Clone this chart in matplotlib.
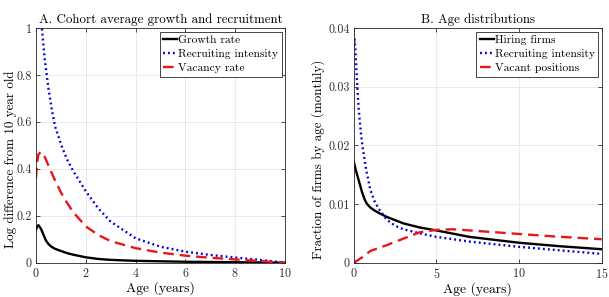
import numpy as np
import matplotlib
matplotlib.use("Agg")
import matplotlib.pyplot as plt

plt.rcParams['font.family'] = ['cmr10', 'DejaVu Serif']
plt.rcParams['mathtext.fontset'] = 'cm'
plt.rcParams['axes.unicode_minus'] = False
plt.rcParams['axes.formatter.use_mathtext'] = True

# Panel A: log difference from 10 year old, by age (years)
age_a = [0, 0.05, 0.1, 0.2, 0.3, 0.4, 0.5, 0.6, 0.75, 1, 1.25, 1.5, 2, 2.5, 3, 4, 5,
         6, 7, 8, 9, 10]
growth = [0.139, 0.155, 0.16, 0.145, 0.12, 0.095, 0.08, 0.07, 0.06, 0.05, 0.041,
          0.034, 0.023, 0.016, 0.012, 0.008, 0.006, 0.004, 0.003, 0.002, 0.001, 0.0]
vacancy = [0.359, 0.43, 0.462, 0.472, 0.462, 0.44, 0.415, 0.39, 0.355, 0.3, 0.255,
           0.215, 0.155, 0.118, 0.092, 0.062, 0.043, 0.03, 0.021, 0.014, 0.007, 0.0]
age_ri = [0.1, 0.24, 0.35, 0.51, 0.65, 0.77, 1.04, 1.25, 1.5, 2, 2.5, 3, 4, 5, 6, 7,
          8, 9, 10]
recruit = [1.25, 1.0, 0.87, 0.737, 0.645, 0.58, 0.495, 0.44, 0.39, 0.305, 0.232,
           0.175, 0.104, 0.068, 0.047, 0.033, 0.022, 0.012, 0.0]

# Panel B: fraction of firms by age (monthly)
age_b = [0, 0.1, 0.25, 0.35, 0.5, 0.65, 0.8, 1, 1.25, 1.5, 2, 3, 4, 5, 7, 10, 12.5, 15]
hiring = [0.0172, 0.0160, 0.0145, 0.0135, 0.0120, 0.0108, 0.0100, 0.0094, 0.0089,
          0.0085, 0.0078, 0.0067, 0.006, 0.0055, 0.0044, 0.0034, 0.0028, 0.0023]
age_rb = [0, 0.04, 0.1, 0.2, 0.3, 0.45, 0.55, 0.75, 1, 1.25, 1.5, 2, 2.5, 3, 4, 5, 7,
          10, 15]
recruit_b = [0.0367, 0.0383, 0.036, 0.0305, 0.0259, 0.0215, 0.0193, 0.0158, 0.0124,
             0.0105, 0.0092, 0.0073, 0.0063, 0.0057, 0.005, 0.0044, 0.0036, 0.0027,
             0.0015]
age_vb = [0, 0.5, 1, 2, 3, 4, 5, 6, 8, 10, 12, 15]
vacant = [0.0, 0.0009, 0.002, 0.003, 0.0041, 0.0052, 0.0056, 0.0057, 0.0053,
          0.0049, 0.0045, 0.004]

fig = plt.figure(figsize=(6.09, 2.97), dpi=100)
ax1 = fig.add_axes([0.059, 0.1155, 0.409, 0.79])
ax2 = fig.add_axes([0.581, 0.1155, 0.407, 0.79])

dots = (0, (0.8, 1.3))
dashes = (0, (4.5, 2.5))
lw = 1.7

ax1.plot(age_a, growth, color='black', lw=lw, label='Growth rate')
ax1.plot(age_ri, recruit, color='#0000e0', lw=lw, ls=dots, label='Recruiting intensity')
ax1.plot(age_a, vacancy, color='#e8161b', lw=lw, ls=dashes, label='Vacancy rate')
ax1.set_xlim(0, 10)
ax1.set_ylim(0, 1)
ax1.set_xticks([0, 2, 4, 6, 8, 10])
ax1.set_yticks([0, 0.2, 0.4, 0.6, 0.8, 1])
ax1.set_yticklabels(['0', '0.2', '0.4', '0.6', '0.8', '1'])
ax1.set_title('A. Cohort average growth and recruitment', fontsize=9.3, pad=4)
ax1.set_xlabel('Age (years)', fontsize=9.8, labelpad=1)
ax1.set_ylabel('Log difference from 10 year old', fontsize=9.4)
ax1.yaxis.set_label_coords(-0.076, 0.44)

ax2.plot(age_b, hiring, color='black', lw=lw, label='Hiring firms')
ax2.plot(age_rb, recruit_b, color='#0000e0', lw=lw, ls=dots, label='Recruiting intensity')
ax2.plot(age_vb, vacant, color='#e8161b', lw=lw, ls=dashes, label='Vacant positions')
ax2.set_xlim(0, 15)
ax2.set_ylim(0, 0.04)
ax2.set_xticks([0, 5, 10, 15])
ax2.set_yticks([0, 0.01, 0.02, 0.03, 0.04])
ax2.set_yticklabels(['0', '0.01', '0.02', '0.03', '0.04'])
ax2.set_title('B. Age distributions', fontsize=9.3, pad=4)
ax2.set_xlabel('Age (years)', fontsize=9.8, labelpad=1)
ax2.set_ylabel('Fraction of firms by age (monthly)', fontsize=9.4)
ax2.yaxis.set_label_coords(-0.115, 0.44)

for ax in [ax1, ax2]:
    ax.grid(True, color='#e6e6e6', lw=0.6)
    ax.set_axisbelow(True)
    ax.tick_params(direction='in', top=True, right=True, length=3, width=0.6,
                   labelsize=8.7, colors='#303030', pad=3)
    for s in ax.spines.values():
        s.set_linewidth(0.6)
        s.set_color('#262626')
    leg = ax.legend(loc='upper right', fontsize=8.3, handlelength=1.2,
                    handletextpad=0.1, borderpad=0.3, labelspacing=0.35,
                    fancybox=False, framealpha=1, borderaxespad=0.3)
    leg.get_frame().set_edgecolor('#262626')
    leg.get_frame().set_linewidth(0.6)

fig.savefig('out.png', dpi=100)
